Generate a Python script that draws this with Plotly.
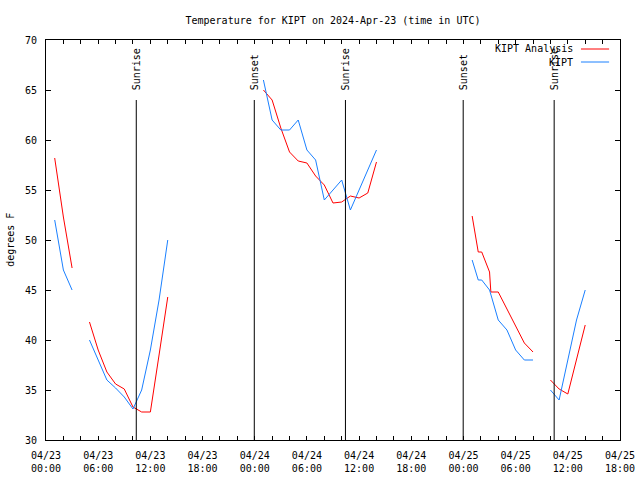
import plotly.graph_objects as go

# hours since 2024-04-23 00:00 UTC
analysis_hours = [1, 2, 3, None,
                  5, 6, 7, 8, 9, 10, 11, 12, 13, 14, None,
                  25, 26, 27, 28, 29, 30, 31, 32, 33, 34, 35, 36, 37, 38, None,
                  49.0, 49.7, 50.1, 51.0, 51.15, 52, 53, 54, 55, 56, None,
                  58, 59, 60, 61, 62]
analysis_temps = [58.2, 52.3, 47.2, None,
                  41.8, 39.0, 36.8, 35.6, 35.1, 33.3, 32.8, 32.8, 38.5, 44.3, None,
                  65.0, 64.0, 61.2, 58.8, 57.9, 57.7, 56.4, 55.5, 53.7, 53.8, 54.4, 54.2, 54.7, 57.8, None,
                  52.4, 48.8, 48.8, 46.8, 44.8, 44.8, 43.1, 41.4, 39.7, 38.8, None,
                  36.0, 35.1, 34.6, 38.0, 41.5]

obs_hours = [1, 2, 3, None,
             5, 6, 7, 8, 9, 10, 11, 12, 13, 14, None,
             25, 26, 27, 28, 29, 30, 31, 32, 33, 34, 35, 36, 37, 38, None,
             49.0, 49.7, 50.1, 51.0, 52, 53, 54, 55, 56, None,
             58, 59, 60, 61, 62]
obs_temps = [52, 47, 45, None,
             40, 38, 36, 35.2, 34.3, 33.1, 35, 39, 44, 50, None,
             66, 62, 61, 61, 62, 59, 58, 54, 55, 56, 53, 55, 57, 59, None,
             48, 46, 46, 45, 42, 41, 39, 38, 38, None,
             35, 34, 38, 42, 45]

sun_events = ["Sunrise", "Sunset", "Sunrise", "Sunset", "Sunrise"]
sun_hours = [10.38, 23.95, 34.43, 47.97, 58.43]

label_hours = [0, 6, 12, 18, 24, 30, 36, 42, 48, 54, 60, 66]
label_dates = ["04/23", "04/23", "04/23", "04/23", "04/24", "04/24",
               "04/24", "04/24", "04/25", "04/25", "04/25", "04/25"]
label_times = ["00:00", "06:00", "12:00", "18:00", "00:00", "06:00",
               "12:00", "18:00", "00:00", "06:00", "12:00", "18:00"]

title_text = "Temperature for KIPT on 2024-Apr-23 (time in UTC)"
y_title = "degrees F"
series_names = ["KIPT Analysis", "KIPT"]
series_colors = ["#ff0000", "#1a80ff"]

FONT = "DejaVu Sans Mono"

fig = go.Figure()
fig.add_trace(go.Scatter(x=analysis_hours, y=analysis_temps, mode="lines",
                         line=dict(color=series_colors[0], width=1),
                         name=series_names[0], connectgaps=False, showlegend=False))
fig.add_trace(go.Scatter(x=obs_hours, y=obs_temps, mode="lines",
                         line=dict(color=series_colors[1], width=1),
                         name=series_names[1], connectgaps=False, showlegend=False))
# carrier trace for the second (time-of-day) label axis
fig.add_trace(go.Scatter(x=[label_hours[0], label_hours[-1]], y=[None, None], xaxis="x2",
                         mode="lines", showlegend=False, hoverinfo="skip"))

shapes = []
annotations = []
for name, h in zip(sun_events, sun_hours):
    shapes.append(dict(type="line", xref="x", yref="paper", x0=h, x1=h, y0=0, y1=0.85,
                       line=dict(color="black", width=1)))
    annotations.append(dict(xref="x", yref="paper", x=h, y=0.87, text=name, textangle=-90,
                            showarrow=False, xanchor="center", yanchor="bottom",
                            font=dict(family=FONT, size=10, color="black")))

# legend (gnuplot style: text then sample line)
leg_y = [0.9775, 0.945]
for name, color, yy in zip(series_names, series_colors, leg_y):
    annotations.append(dict(xref="paper", yref="paper", x=0.9216, y=yy, text=name,
                            showarrow=False, xanchor="right", yanchor="middle",
                            font=dict(family=FONT, size=10, color="black")))
    shapes.append(dict(type="line", xref="paper", yref="paper", x0=0.932, x1=0.981,
                       y0=yy, y1=yy, line=dict(color=color, width=1)))

annotations.append(dict(xref="paper", yref="paper", x=-0.063, y=0.5, text=y_title,
                        textangle=-90, showarrow=False, xanchor="center", yanchor="middle",
                        font=dict(family=FONT, size=10, color="black")))

tick_all = list(range(0, 67, 2))
date_txt = [label_dates[label_hours.index(t)] if t in label_hours else "" for t in tick_all]
time_txt = [label_times[label_hours.index(t)] if t in label_hours else "" for t in tick_all]

fig.update_layout(
    width=640, height=480,
    margin=dict(l=46, r=20, t=40, b=40, pad=0),
    paper_bgcolor="white", plot_bgcolor="white",
    font=dict(family=FONT, size=10, color="black"),
    title=dict(text=title_text, x=0.5, xref="paper", xanchor="center",
               y=1 - 20 / 480, yref="container", yanchor="middle",
               font=dict(family=FONT, size=10, color="black")),
    shapes=shapes, annotations=annotations, showlegend=False,
    xaxis=dict(range=[0, 66], tickvals=tick_all, ticktext=date_txt,
               ticks="inside", ticklen=4, tickcolor="black", showgrid=False,
               zeroline=False, showline=True, linecolor="black", linewidth=1,
               mirror="ticks", tickfont=dict(family=FONT, size=10),
               ticklabelstandoff=6, automargin=False),
    xaxis2=dict(range=[0, 66], overlaying="x", side="bottom", tickvals=tick_all,
                ticktext=time_txt, ticks="", showgrid=False, zeroline=False,
                showline=False, tickfont=dict(family=FONT, size=10),
                ticklabelstandoff=21, automargin=False),
    yaxis=dict(range=[30, 70], tickvals=[30, 35, 40, 45, 50, 55, 60, 65, 70],
               ticks="inside", ticklen=5, tickcolor="black", showgrid=False,
               zeroline=False, showline=True, linecolor="black", linewidth=1,
               mirror="ticks", tickfont=dict(family=FONT, size=10),
               ticklabelstandoff=6, automargin=False),
)

fig.write_html("out.html", config={"displayModeBar": False},
               post_script="document.body.style.margin='0px';")
